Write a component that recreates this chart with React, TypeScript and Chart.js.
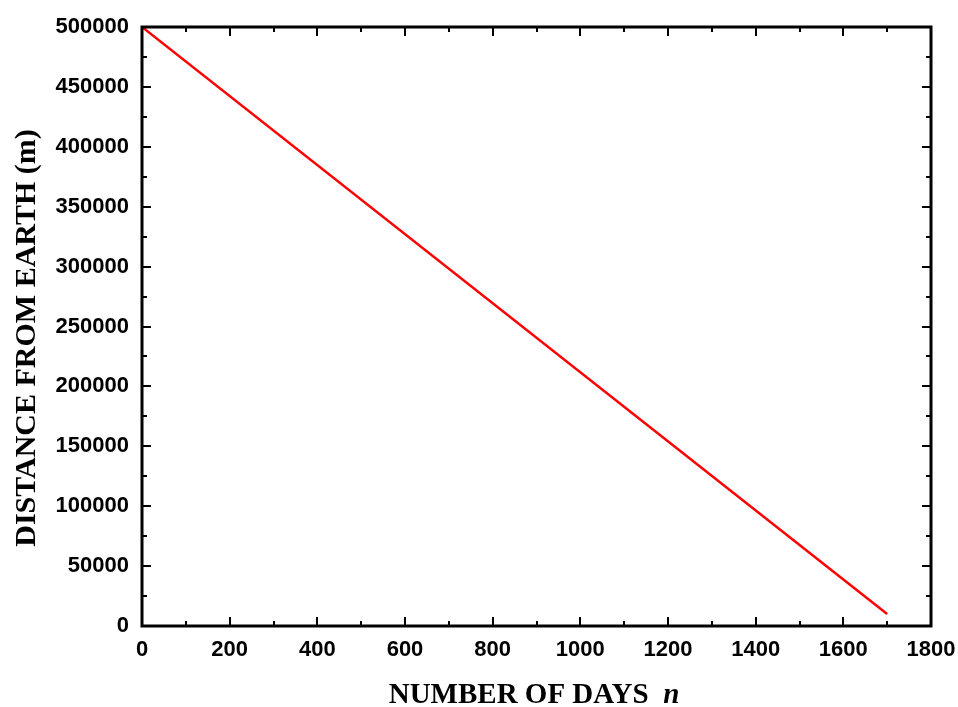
import React, { useEffect, useRef } from "react";
import { Chart, registerables } from "chart.js";

Chart.register(...registerables);

const days: number[] = [0, 1700];
const distance: number[] = [500000, 10000];
const xTickValues: number[] = [0, 200, 400, 600, 800, 1000, 1200, 1400, 1600, 1800];
const yTickValues: number[] = [0, 50000, 100000, 150000, 200000, 250000, 300000, 350000, 400000, 450000, 500000];
const xMinorStep = 100;
const yMinorStep = 25000;
const xTitle = "NUMBER OF DAYS";
const xTitleVar = "n";
const yTitle = "DISTANCE FROM EARTH (m)";

const framePlugin = {
  id: "frameTicks",
  afterDraw(chart: any) {
    const { ctx, chartArea } = chart;
    const xs = chart.scales.x;
    const ys = chart.scales.y;
    const { left, right, top, bottom } = chartArea;
    ctx.save();
    ctx.strokeStyle = "#000";
    ctx.lineWidth = 3;
    ctx.lineCap = "butt";
    ctx.strokeRect(left, top, right - left, bottom - top);
    ctx.lineWidth = 2;
    const major = 9;
    const minor = 5;
    for (let v = xs.min; v <= xs.max + 1e-6; v += xMinorStep) {
      const isMajor = xTickValues.includes(v);
      const len = isMajor ? major : minor;
      const px = Math.round(xs.getPixelForValue(v));
      if (px <= left + 1 || px >= right - 1) continue;
      ctx.beginPath();
      ctx.moveTo(px, bottom);
      ctx.lineTo(px, bottom - len);
      ctx.moveTo(px, top);
      ctx.lineTo(px, top + len);
      ctx.stroke();
    }
    for (let v = ys.min; v <= ys.max + 1e-6; v += yMinorStep) {
      const isMajor = yTickValues.includes(v);
      const len = isMajor ? major : minor;
      const py = Math.round(ys.getPixelForValue(v));
      if (py <= top + 1 || py >= bottom - 1) continue;
      ctx.beginPath();
      ctx.moveTo(left, py);
      ctx.lineTo(left + len, py);
      ctx.moveTo(right, py);
      ctx.lineTo(right - len, py);
      ctx.stroke();
    }
    ctx.fillStyle = "#000";
    const boldFont = "bold 29px 'Liberation Serif', 'Times New Roman', serif";
    const italicFont = "italic bold 29px 'Liberation Serif', 'Times New Roman', serif";
    ctx.textBaseline = "alphabetic";
    ctx.font = boldFont;
    const w1 = ctx.measureText(xTitle + "  ").width;
    ctx.font = italicFont;
    const w2 = ctx.measureText(xTitleVar).width;
    const cx = 534;
    const startX = cx - (w1 + w2) / 2;
    const baseY = 703;
    ctx.textAlign = "left";
    ctx.font = boldFont;
    ctx.fillText(xTitle + "  ", startX, baseY);
    ctx.font = italicFont;
    ctx.fillText(xTitleVar, startX + w1, baseY);

    ctx.translate(35, 338);
    ctx.rotate(-Math.PI / 2);
    ctx.font = "bold 30px 'Liberation Serif', 'Times New Roman', serif";
    ctx.textAlign = "center";
    ctx.fillText(yTitle, 0, 0);
    ctx.restore();
  },
};

export default function App() {
  const ref = useRef<HTMLCanvasElement | null>(null);
  useEffect(() => {
    if (!ref.current) return;
    const tickFont = { family: "'Liberation Sans', Arial, sans-serif", size: 22, weight: "bold" as const };
    const chart = new Chart(ref.current, {
      type: "line",
      data: {
        datasets: [
          {
            data: days.map((d, i) => ({ x: d, y: distance[i] })),
            borderColor: "#ff0000",
            borderWidth: 2.5,
            pointRadius: 0,
            fill: false,
            tension: 0,
          },
        ],
      },
      options: {
        animation: false,
        responsive: false,
        maintainAspectRatio: false,
        layout: { padding: { left: 0, top: 27, right: 27, bottom: 0 } },
        plugins: { legend: { display: false }, tooltip: { enabled: false } },
        scales: {
          x: {
            type: "linear",
            min: 0,
            max: 1800,
            afterBuildTicks: (s: any) => {
              s.ticks = xTickValues.map((v) => ({ value: v }));
            },
            afterFit: (s: any) => {
              s.height = 707 - 626;
              s.paddingLeft = 0;
              s.paddingRight = 0;
            },
            ticks: { color: "#000", font: tickFont, padding: 11, maxRotation: 0, autoSkip: false, callback: (v: any) => String(v) },
            grid: { display: false, drawTicks: false },
            border: { display: false },
          },
          y: {
            type: "linear",
            min: 0,
            max: 500000,
            afterBuildTicks: (s: any) => {
              s.ticks = yTickValues.map((v) => ({ value: v }));
            },
            afterFit: (s: any) => {
              s.width = 142;
              s.paddingTop = 0;
              s.paddingBottom = 0;
            },
            ticks: { color: "#000", font: tickFont, padding: 13, autoSkip: false, callback: (v: any) => String(v) },
            grid: { display: false, drawTicks: false },
            border: { display: false },
          },
        },
      },
      plugins: [framePlugin],
    });
    return () => chart.destroy();
  }, []);
  return (
    <div style={{ position: "fixed", left: 0, top: 0, width: 958, height: 707, background: "#fff" }}>
      <canvas ref={ref} width={958} height={707} style={{ display: "block" }} />
    </div>
  );
}
